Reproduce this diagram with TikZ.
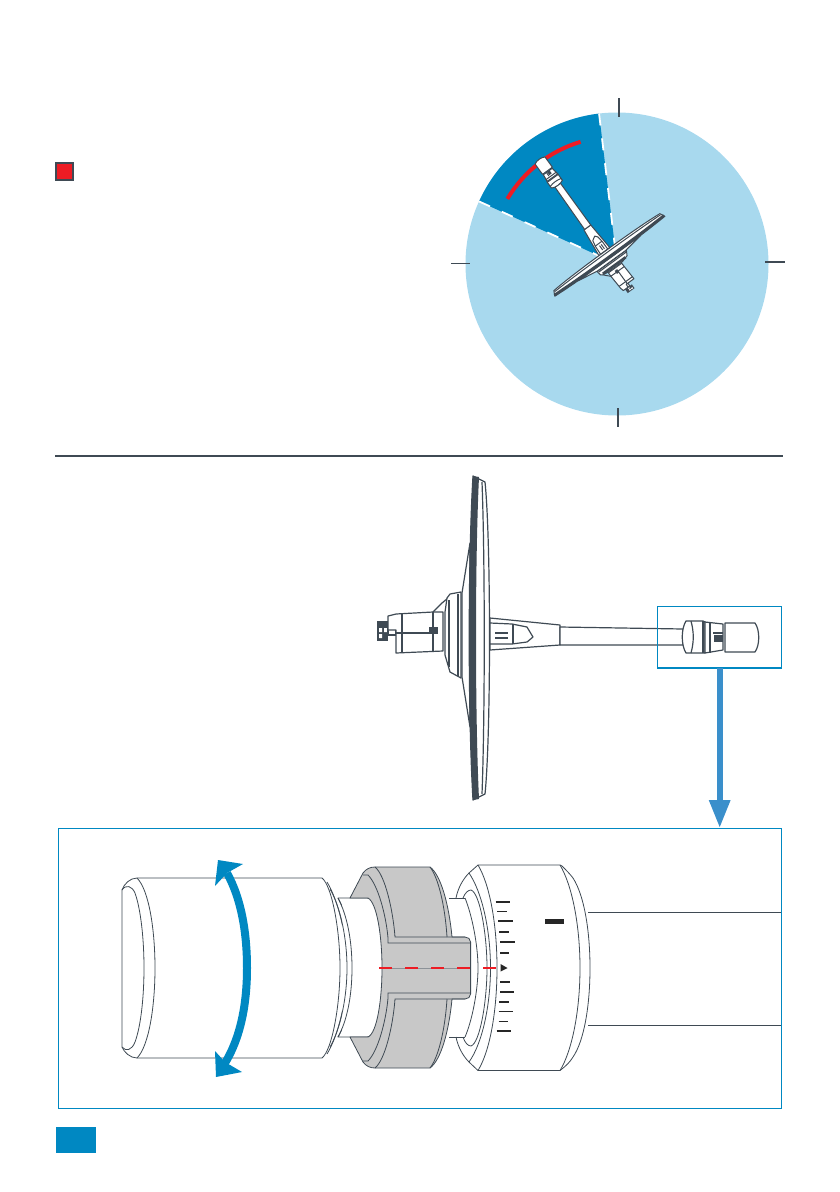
\documentclass[tikz,border=0pt]{standalone}
\usepackage{xcolor}
\definecolor{ink}{HTML}{3F4A54}
\definecolor{paleblue}{HTML}{A8D9EE}
\definecolor{deepblue}{HTML}{0088C2}
\definecolor{shaftblue}{HTML}{3A8FCB}
\definecolor{alert}{HTML}{ED1C24}
\definecolor{collar}{HTML}{C8C8C8}
\usetikzlibrary{calc,positioning,arrows.meta}

\tikzset{
  dishline/.style={line width=1.2pt},
  pics/dish/.style={code={
    \begin{scope}[shift={(-473,-637)}, draw=ink, fill=white, line join=round, dishline]
      % Knob and hub
      \fill[ink] (377,621) rectangle (388,641);
      \fill[white] (379,628) rectangle (382,632) (384,628) rectangle (387,632) (379,634) rectangle (382,638);
      \filldraw (388,627) rectangle (396,635);
      \filldraw (388,616) -- (396,614) -- (433,612) -- (443,612) -- (443,651) -- (396,653) -- (396,630) -- (388,630) -- cycle;
      \draw (402,614) -- (402,653);
      \draw (396,633) -- (433,633);
      \draw (433,612) -- (433,651);
      \fill[ink] (429,627) rectangle (438,634);
      \draw (433,612) -- (442,603) -- (448,598);
      % Flange and back of the dish
      \filldraw (470,543) -- (462,593) -- (462,677) -- (470,727) -- cycle;
      \filldraw (447,598) -- (450,594) -- (461,592) -- (461,678) -- (450,672) -- (445,655) -- (445,612) -- cycle;
      \draw[line width=2.6pt] (449,600) -- (449,667);
      \draw (458,594) -- (458,676);
      % Dish
      \filldraw (473,476) -- (485,482) .. controls (491,540) and (491,735) .. (485,794) -- (473,800)
        .. controls (468,715) and (468,560) .. (473,476) -- cycle;
      \fill[ink] (473,476) -- (479,477) .. controls (475,560) and (475,715) .. (479,799) -- (473,800)
        .. controls (468,715) and (468,560) .. (473,476) -- cycle;
      \draw (482,482) .. controls (485,560) and (485,715) .. (482,794);
      % Bracket
      \filldraw (490,618) -- (560,625) -- (560,645) -- (490,650) -- cycle;
      \draw (490,623) -- (512,624) -- (527,627) -- (533,637) -- (527,642) -- (512,644) -- (490,644);
      \draw (495,633) -- (508,633) (495,638) -- (508,638) (513,624) -- (513,644);
      % Arm
      \filldraw (560,627) -- (683,629) -- (683,645) -- (560,645) -- cycle;
      % Clamp, nut and cap
      \filldraw (686,621) -- (703,621) -- (705,622) -- (705,653) -- (703,653) -- (686,653)
        .. controls (681,645) and (681,629) .. (686,621) -- cycle;
      \draw (691,621) .. controls (694,632) and (694,642) .. (691,653);
      \draw (703,621) -- (703,653);
      \filldraw (705,622) -- (723,624) -- (723,650) -- (705,653) -- cycle;
      \draw (710,622) -- (710,653) (713,633) -- (723,633);
      \fill[ink] (714,635) rectangle (723,642);
      \filldraw (725,623) -- (755,623) .. controls (760,630) and (760,645) .. (755,652) -- (725,652) -- cycle;
    \end{scope}
  }}
}

\begin{document}
\begin{tikzpicture}[x=1pt, y=-1pt,
    mark box/.style={draw=#1, inner sep=0pt, outer sep=0pt},
    rim tick/.style={draw=ink, line width=1.4pt},
    wedge edge/.style={draw=white, line width=1.8pt, dash pattern=on 12pt off 13pt},
    body/.style={draw=ink, line width=0.8pt, fill=white, line join=round},
    fine/.style={draw=ink, line width=0.8pt},
    scale tick/.style={draw=black!85, line width=#1}
]
  \useasboundingbox (0,0) rectangle (840,1192);

  % Marker and page tab
  \node[mark box=ink, fill=alert, line width=1.6pt, minimum width=17pt, minimum height=17pt] (marker) at (64.5,171.5) {};
  \node[inner sep=0pt, fill=deepblue, minimum width=40pt, minimum height=26pt] (pagetab) at (76,1140) {};

  % Angle disc
  \coordinate (hub) at (617,264);
  \coordinate (rimA) at ([shift={(-96.8:151.5)}]hub);
  \coordinate (rimB) at ([shift={(-155.6:151.5)}]hub);
  \fill[paleblue] (hub) circle[radius=151.5pt];
  \fill[deepblue] (hub) -- (rimA) arc[start angle=96.8, end angle=155.6, radius=151.5pt] -- cycle;
  \draw[wedge edge] (rimA) -- (hub);
  \draw[wedge edge] (rimB) -- (hub);
  \draw[rim tick] (619,98) -- (619,117);
  \draw[rim tick] (451,263.5) -- (470,263.5);
  \draw[rim tick, line width=2.4pt] (765,262) -- (785,262);
  \draw[rim tick] (618,408) -- (618,427);
  \coordinate (arcA) at ([shift={(-106.6:127.5)}]hub);
  \draw[alert, line width=4pt] (arcA) arc[start angle=106.6, end angle=149.3, radius=127.5pt];

  % Dish, small and large
  \pic[rotate=126, scale=0.42, dishline/.style={line width=1pt}] at (609.5,256.5) {dish};
  \draw[ink, line width=2pt] (55,456) -- (783,456);
  \pic at (473,637) {dish};

  % Detail frames and arrow
  \node[mark box=deepblue, line width=1.4pt, minimum width=124pt, minimum height=61.5pt] (detail) at (719.7,637.3) {};
  \node[mark box=deepblue, line width=1pt, minimum width=723pt, minimum height=280pt] (panel) at (419.5,968) {};
  \draw[shaftblue, line width=6pt, -{Triangle[width=20pt, length=28pt]}] (detail.south) -- (detail.south |- panel.north);

  % Cap
  \draw[body] (122,890) .. controls (124,884) and (130,878) .. (137,878) -- (322,878)
    .. controls (332,886) and (340,930) .. (340,968) .. controls (340,1006) and (332,1050) .. (322,1058)
    -- (137,1058) .. controls (130,1058) and (124,1052) .. (122,1047) -- cycle;
  \draw[fine] (137,878) .. controls (149,890) and (155,930) .. (155,968) .. controls (155,1006) and (149,1046) .. (137,1058);
  \draw[fine] (122,890) .. controls (126,884) and (132,886) .. (135,893) .. controls (141,910) and (144,940) .. (144,968)
    .. controls (144,996) and (141,1026) .. (135,1042) .. controls (132,1050) and (126,1052) .. (122,1047);

  % Neck and ring behind the collar
  \draw[body] (338,898) -- (368,898) -- (384,968) -- (368,1037) -- (338,1037) .. controls (348,1020) and (352,995) .. (352,968) .. controls (352,941) and (348,916) .. (338,898) -- cycle;
  \draw[fine] (327,882) .. controls (338,900) and (347,935) .. (347,968) .. controls (347,1001) and (338,1036) .. (327,1054);
  \fill[white] (342,899) rectangle (384,1036);
  \draw[fine] (338,898) .. controls (347,915) and (352,940) .. (352,968) .. controls (352,996) and (347,1021) .. (338,1037);
  \draw[fine] (330,889) .. controls (341,908) and (347,940) .. (347,968) .. controls (347,996) and (341,1028) .. (330,1047);

  % Dial
  \fill[white] (449,898) -- (456,898) -- (460,885) -- (469,873) -- (478,865) -- (560,865) -- (590,968) -- (560,1070.5) -- (478,1070.5)
    -- (469,1062) -- (460,1050) -- (456,1037) -- (449,1037) -- cycle;
  \draw[fine] (449,898) -- (465,898);
  \draw[fine] (449,1037) -- (465,1037);
  \draw[fine] (456,898) .. controls (458,888) and (463,879) .. (469,873) -- (478,865) -- (560,865) -- (562,866) .. controls (566,870) and (570,874) .. (573,878)
    .. controls (584,895) and (590,930) .. (590,968) .. controls (590,1006) and (584,1041) .. (573,1057)
    .. controls (570,1062) and (566,1066) .. (560,1070.5) -- (478,1070.5) -- (469,1062) .. controls (463,1056) and (458,1047) .. (456,1037);
  \draw[fine] (478,865) .. controls (490,885) and (497,925) .. (497,968) .. controls (497,1011) and (490,1051) .. (478,1070.5);
  \draw[fine] (469,873) .. controls (482,892) and (490.5,930) .. (490.5,968) .. controls (490.5,1006) and (482,1044) .. (469,1062);
  \draw[fine] (463,898) .. controls (465,893) and (468,890) .. (471,890) .. controls (480,893) and (487,935) .. (487,968)
    .. controls (487,1001) and (480,1043) .. (471,1046) .. controls (468,1046) and (465,1043) .. (463,1037);
  \draw[fine] (465,898) .. controls (472,915) and (478,945) .. (478,968) .. controls (478,991) and (472,1021) .. (465,1037);
  \draw[fine] (560,865) .. controls (572,885) and (580,925) .. (580,968) .. controls (580,1011) and (572,1051) .. (560,1070.5);
  \draw[fine] (588,912) -- (781,912);
  \draw[fine] (588,1025) -- (781,1025);

  % Scale
  \foreach \ya/\xa/\xb/\wd in {901.7/495.7/510/1.8pt, 911.3/497.3/506.7/0.8pt, 921/498.3/513/1.8pt,
      931.7/499.3/509/1.8pt, 941.7/500/515/1.8pt, 952.7/500.3/509/1.8pt, 982/500.3/510/1.8pt,
      991.7/500/514/1.8pt, 1002/499.3/509/1.8pt, 1011.3/498.7/513/0.8pt, 1021.3/498.7/508/0.8pt, 1031/496.7/511/1.8pt}
    \draw[scale tick=\wd] (\xa,\ya) -- (\xb,\ya);
  \fill[black!85] (500.5,964) -- (507.5,968) -- (500.5,971.5) -- cycle;
  \fill[black!85] (545,919) rectangle (564,924);

  % Collar
  \draw[draw=ink, line width=0.8pt, fill=collar, line join=round] (350,898) -- (363,873) .. controls (366,869) and (370,867) .. (375,867) -- (430,867)
    .. controls (441,875) and (449,905) .. (452,937) -- (465,937) .. controls (468,937) and (470.6,939) .. (470.6,942)
    -- (470.6,994) .. controls (470.6,997) and (468,999) .. (465,999) -- (452,999)
    .. controls (449,1031) and (441,1060) .. (430,1068) -- (375,1068) .. controls (370,1068) and (366,1066) .. (363,1062) -- (350,1037)
    -- (368,1037) .. controls (377,1033) and (382,1000) .. (382,968) .. controls (382,936) and (377,903) .. (368,898) -- cycle;
  \draw[fine] (375,867) .. controls (385,875) and (393,910) .. (395,937) -- (465,937);
  \draw[fine] (363,875) -- (368,875) .. controls (378,885) and (386,915) .. (388,938) -- (388,943) -- (470.6,943);
  \draw[fine] (363,1061) -- (368,1061) .. controls (378,1051) and (386,1021) .. (388,998) -- (388,993) -- (470.6,993);
  \draw[fine] (375,1068) .. controls (385,1060) and (393,1026) .. (395,999) -- (465,999);
  \draw[fine] (430,867) .. controls (438,877) and (445,905) .. (447,937);
  \draw[fine] (430,1068) .. controls (438,1058) and (445,1031) .. (447,999);

  % Index line
  \draw[ink!60, line width=0.9pt] (379,968) -- (470,968);
  \draw[alert, line width=1.2pt, dash pattern=on 13pt off 13pt] (379,968) -- (496,968);

  % Turning arrow
  \draw[deepblue, line width=8pt] (227,873) .. controls (242,900) and (247,935) .. (247,968) .. controls (247,1000) and (242,1035) .. (225,1063);
  \fill[deepblue] (218,860) -- (243,864) -- (227,873) -- (215,886) -- cycle;
  \fill[deepblue] (216,1077) -- (242,1072) -- (225,1062) -- (215,1051) -- cycle;
\end{tikzpicture}
\end{document}
